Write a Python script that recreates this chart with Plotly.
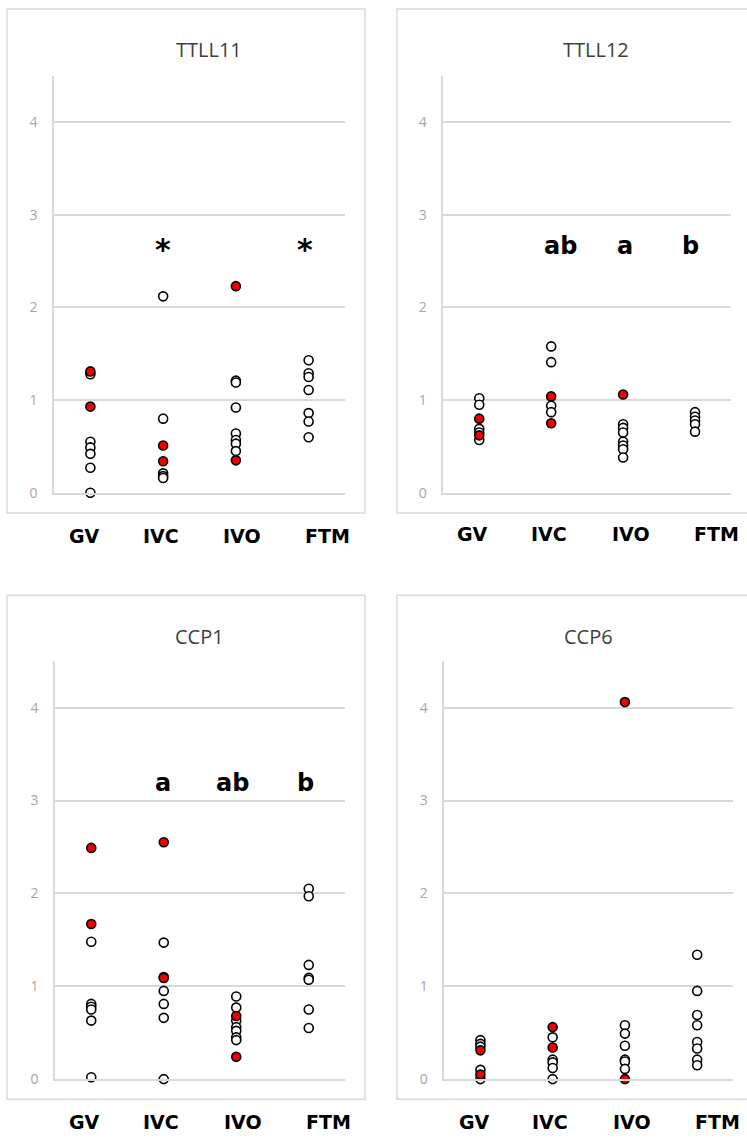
import plotly.graph_objects as go

# ---------------------------------------------------------------- data
groups = ["GV", "IVC", "IVO", "FTM"]
panel_titles = ["TTLL11", "TTLL12", "CCP1", "CCP6"]
y_ticks = [0, 1, 2, 3, 4]

# relative expression per sample, white (open) and red (highlighted) samples
ttll11_open = [[1.28, 0.55, 0.49, 0.42, 0.27, 0.0],
               [2.12, 0.80, 0.21, 0.18, 0.16],
               [1.21, 1.19, 0.92, 0.64, 0.57, 0.53, 0.45],
               [1.43, 1.29, 1.25, 1.11, 0.86, 0.77, 0.60]]
ttll11_red = [[1.31, 0.93], [0.51, 0.34], [2.23, 0.35], []]
ttll11_marks = ["", "*", "", "*"]

ttll12_open = [[1.02, 0.95, 0.69, 0.65, 0.57],
               [1.58, 1.41, 0.94, 0.87],
               [0.74, 0.70, 0.65, 0.55, 0.51, 0.47, 0.38],
               [0.87, 0.82, 0.78, 0.74, 0.66]]
ttll12_red = [[0.80, 0.62], [1.04, 0.75], [1.06], []]
ttll12_marks = ["", "ab", "a", "b"]

ccp1_open = [[1.48, 0.81, 0.78, 0.75, 0.63, 0.02],
             [1.47, 1.10, 0.95, 0.81, 0.66, 0.0],
             [0.89, 0.77, 0.63, 0.56, 0.52, 0.45, 0.42],
             [2.05, 1.97, 1.23, 1.09, 1.07, 0.75, 0.55]]
ccp1_red = [[2.49, 1.67], [2.55, 1.09], [0.68, 0.24], []]
ccp1_marks = ["", "a", "ab", "b"]

ccp6_open = [[0.42, 0.38, 0.35, 0.10, 0.0],
             [0.45, 0.21, 0.18, 0.12, 0.0],
             [0.58, 0.49, 0.36, 0.21, 0.19, 0.11],
             [1.34, 0.95, 0.69, 0.58, 0.40, 0.33, 0.21, 0.15]]
ccp6_red = [[0.31, 0.05], [0.56, 0.34], [4.06, 0.0], []]
ccp6_marks = ["", "", "", ""]

# ---------------------------------------------------------------- layout geometry (pixels)
W, H = 747, 1141


def px(x):
    return x / W


def py(y):
    return 1 - y / H


panels = [
    dict(title=panel_titles[0], open=ttll11_open, red=ttll11_red, marks=ttll11_marks,
         plot_x=(54, 345), y0=496.7, unit=93.4, frame=(7, 9, 365, 517),
         title_xy=(209, 49.5), label_x=[84, 161, 242, 327], label_y=540,
         mark_x=[1, 2.0, 3, 3.95], mark_y=2.63, mark_size=30),
    dict(title=panel_titles[1], open=ttll12_open, red=ttll12_red, marks=ttll12_marks,
         plot_x=(443.3, 731), y0=496.7, unit=93.4, frame=(397, 9, 760, 517),
         title_xy=(596, 49.5), label_x=[472, 549, 631, 716], label_y=538,
         mark_x=[1, 2.13, 3.02, 3.93], mark_y=2.66, mark_size=24),
    dict(title=panel_titles[2], open=ccp1_open, red=ccp1_red, marks=ccp1_marks,
         plot_x=(55, 345), y0=1087.7, unit=93.6, frame=(7, 600, 365, 1108),
         title_xy=(199, 642), label_x=[84, 161, 243, 328], label_y=1131,
         mark_x=[1, 1.99, 2.95, 3.95], mark_y=3.19, mark_size=24),
    dict(title=panel_titles[3], open=ccp6_open, red=ccp6_red, marks=ccp6_marks,
         plot_x=(444.3, 733.3), y0=1087.7, unit=93.6, frame=(397, 600, 760, 1108),
         title_xy=(588, 642), label_x=[474, 550, 632, 717], label_y=1131,
         mark_x=[1, 2, 3, 4], mark_y=3.2, mark_size=24),
]

Y_MAX = 4.5
GRID = "#d9d9d9"
TICK_GREY = "#a6a6a6"
RED = "#f00000"

fig = go.Figure()
annotations = []
shapes = []
layout_axes = {}

for i, p in enumerate(panels):
    n = "" if i == 0 else str(i + 1)
    xa, ya = "x" + n, "y" + n

    # points: open circles first, red samples drawn on top
    for vals, fill in ((p["open"], "white"), (p["red"], RED)):
        xs, ys = [], []
        for g, v in enumerate(vals):
            xs += [g + 1] * len(v)
            ys += v
        fig.add_trace(go.Scatter(
            x=xs, y=ys, mode="markers", xaxis=xa, yaxis=ya, showlegend=False,
            cliponaxis=False,
            marker=dict(symbol="circle", size=9, color=fill,
                        line=dict(color="black", width=1.6)),
            hoverinfo="y"))

    top_px = p["y0"] - Y_MAX * p["unit"]
    layout_axes["xaxis" + n] = dict(
        domain=[px(p["plot_x"][0]), px(p["plot_x"][1])],
        range=[0.5, 4.5], anchor=ya, showgrid=False, zeroline=False,
        showticklabels=False, showline=True, linecolor=GRID, linewidth=1.5,
        ticks="", fixedrange=True)
    layout_axes["yaxis" + n] = dict(
        domain=[py(p["y0"]), py(top_px)],
        range=[0, Y_MAX], anchor=xa, tickvals=y_ticks,
        showgrid=True, gridcolor=GRID, gridwidth=1.5, zeroline=False,
        showline=True, linecolor=GRID, linewidth=1.5, ticks="",
        ticklabelstandoff=12,
        tickfont=dict(family="Open Sans", size=14, color=TICK_GREY),
        fixedrange=True)

    # chart frame
    fx0, fy0, fx1, fy1 = p["frame"]
    shapes.append(dict(type="rect", xref="paper", yref="paper",
                       x0=px(fx0), x1=px(fx1), y0=py(fy1), y1=py(fy0),
                       line=dict(color=GRID, width=1.5), layer="below"))

    # title
    annotations.append(dict(
        text=p["title"], xref="paper", yref="paper",
        x=px(p["title_xy"][0]), y=py(p["title_xy"][1]),
        xanchor="center", yanchor="middle", showarrow=False,
        font=dict(family="Open Sans", size=20, color="#404040")))

    # group labels under the frame
    for g, name in enumerate(groups):
        annotations.append(dict(
            text="<b>%s</b>" % name, xref="paper", yref="paper",
            x=px(p["label_x"][g]), y=py(p["label_y"]),
            xanchor="center", yanchor="middle", showarrow=False,
            font=dict(family="DejaVu Sans", size=19, color="black")))

    # significance marks
    for g, m in enumerate(p["marks"]):
        if not m:
            continue
        annotations.append(dict(
            text="<b>%s</b>" % m, xref=xa, yref=ya,
            x=p["mark_x"][g], y=p["mark_y"],
            xanchor="center", yanchor="middle", showarrow=False,
            font=dict(family="DejaVu Sans", size=p["mark_size"], color="black")))

fig.update_layout(
    width=W, height=H, margin=dict(l=0, r=0, t=0, b=0),
    paper_bgcolor="white", plot_bgcolor="white",
    annotations=annotations, shapes=shapes, showlegend=False,
    **layout_axes)

fig.write_html("out.html", config={"displayModeBar": False})
